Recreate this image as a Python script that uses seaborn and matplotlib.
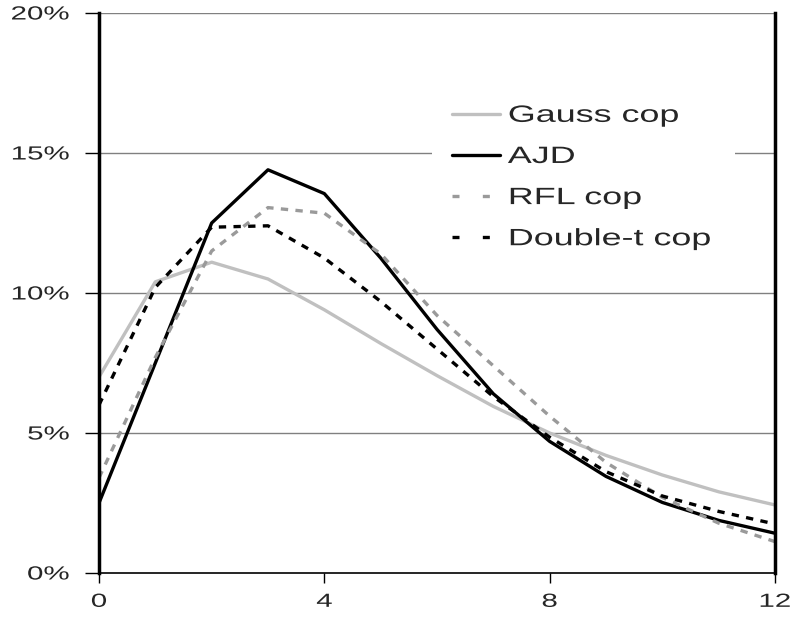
import numpy as np
import pandas as pd
import matplotlib
matplotlib.use("Agg")
import matplotlib.pyplot as plt
import seaborn as sns
from matplotlib.ticker import FuncFormatter
from matplotlib.patheffects import AbstractPathEffect
from matplotlib.transforms import Affine2D
from matplotlib.patches import Rectangle

x_vals = list(range(13))
gauss = [7.0, 10.4, 11.1, 10.5, 9.4, 8.2, 7.05, 5.95, 5.0, 4.2, 3.5, 2.9, 2.43]
ajd = [2.5, 7.5, 12.5, 14.4, 13.55, 11.25, 8.7, 6.4, 4.7, 3.45, 2.52, 1.88, 1.42]
rfl = [3.4, 7.7, 11.5, 13.05, 12.85, 11.4, 9.2, 7.4, 5.6, 3.95, 2.7, 1.78, 1.12]
dblt = [6.0, 10.2, 12.35, 12.4, 11.25, 9.7, 8.0, 6.3, 4.85, 3.62, 2.75, 2.2, 1.75]
series_names = ["Gauss cop", "AJD", "RFL cop", "Double-t cop"]
x_ticks = [0, 4, 8, 12]
y_ticks = [0, 5, 10, 15, 20]

df = pd.concat([
    pd.DataFrame({"x": x_vals, "y": vals, "series": name})
    for name, vals in zip(series_names, [gauss, ajd, rfl, dblt])
])


class HStretch(AbstractPathEffect):
    """Widen glyphs horizontally (the reference uses a wide sans face)."""
    def __init__(self, sx=1.55, anchor="left"):
        super().__init__()
        self.sx = sx
        self.anchor = anchor

    def draw_path(self, renderer, gc, tpath, affine, rgbFace=None):
        ext = tpath.get_extents()
        if self.anchor == "right":
            p = ext.x1
        elif self.anchor == "center":
            p = 0.5 * (ext.x0 + ext.x1)
        else:
            p = 0.0
        tr = Affine2D().translate(-p, 0).scale(self.sx, 1.0).translate(p, 0) + affine
        renderer.draw_path(gc, tpath, tr, rgbFace)


sns.set_style("white")
plt.rcParams['font.family'] = ['Liberation Sans', 'DejaVu Sans']

fig = plt.figure(figsize=(7.96, 6.18), dpi=100)
ax = fig.add_axes([99/796, 45/618, 676/796, 560/618])

palette = {"Gauss cop": "#c0c0c0", "AJD": "#000000", "RFL cop": "#9a9a9a", "Double-t cop": "#000000"}
dashes = {"Gauss cop": "", "AJD": "", "RFL cop": (2.2, 2.2), "Double-t cop": (2.2, 2.2)}

for yv in y_ticks[1:]:
    ax.axhline(yv, color="#808080", lw=1.0, zorder=0)

sns.lineplot(data=df, x="x", y="y", hue="series", style="series",
             palette=palette, dashes=dashes, hue_order=series_names,
             style_order=series_names, linewidth=2.4, ax=ax, legend=True)

ax.set_xlim(0, 12)
ax.set_ylim(0, 20)
ax.set_xticks(x_ticks)
ax.set_yticks(y_ticks)
ax.yaxis.set_major_formatter(FuncFormatter(lambda v, p: f"{v:.0f}%"))
ax.set_xlabel("")
ax.set_ylabel("")
ax.tick_params(axis="both", which="major", direction="out", width=1,
               labelsize=13.7, color="black", left=True, bottom=True)
ax.tick_params(axis="x", length=7, pad=8)
ax.tick_params(axis="y", length=10, pad=11.5)

for side in ["left", "right"]:
    ax.spines[side].set_linewidth(2.5)
    ax.spines[side].set_color("black")
ax.spines["bottom"].set_linewidth(1.2)
ax.spines["bottom"].set_color("black")
ax.spines["top"].set_visible(False)

for lbl in ax.get_xticklabels():
    lbl.set_path_effects([HStretch(1.55, "center")])
for lbl in ax.get_yticklabels():
    lbl.set_path_effects([HStretch(1.55, "right")])

# white legend area covering the gridline
ax.add_patch(Rectangle((0.4926, 0.56), 0.448, 0.30, transform=ax.transAxes,
                       facecolor="white", edgecolor="none", zorder=1))

leg = ax.legend(loc="upper left", bbox_to_anchor=(0.522, 0.836), frameon=False,
                fontsize=17, handlelength=2.03, labelspacing=0.81,
                borderpad=0.0, borderaxespad=0.0, handletextpad=0.34)
for line, name in zip(leg.get_lines(), series_names):
    line.set_linewidth(2.4)
    if name in ("RFL cop", "Double-t cop"):
        line.set_dashes((2.1, 7.0))
for t in leg.get_texts():
    t.set_path_effects([HStretch(1.52, "left")])

fig.savefig("out.png", dpi=100)
